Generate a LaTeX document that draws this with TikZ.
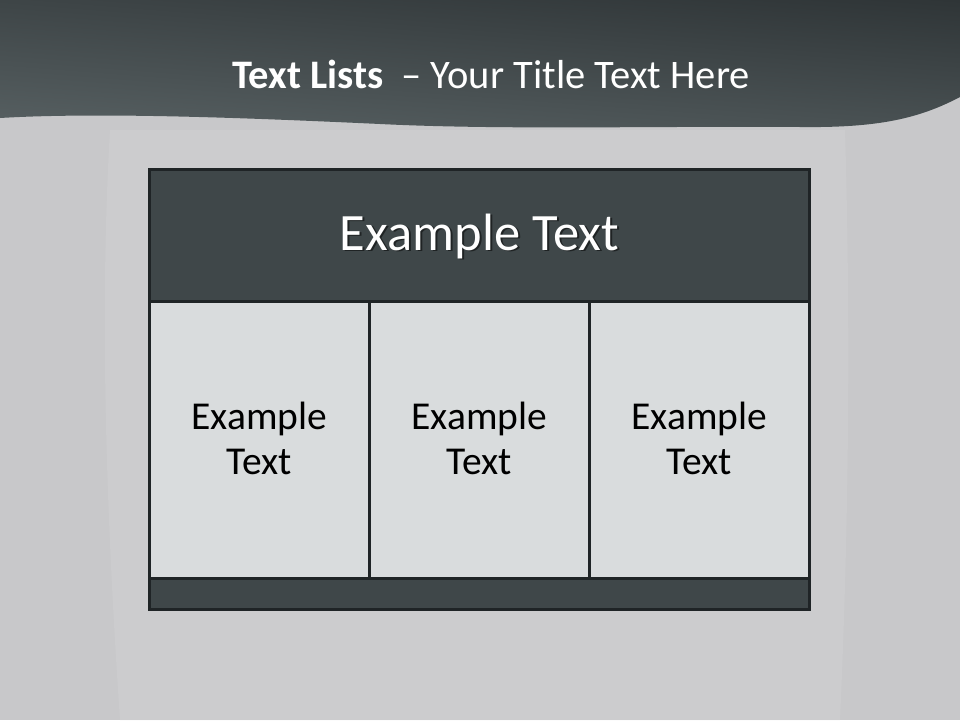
\documentclass[tikz,border=0pt]{standalone}
\usepackage{fontspec}
\setmainfont{Carlito}
\usetikzlibrary{shadings}
\definecolor{bgc}{HTML}{C8C8CA}
\definecolor{bglight}{HTML}{D0D1D2}
\definecolor{darkfill}{HTML}{3F4749}
\definecolor{cellfill}{HTML}{D9DCDD}
\definecolor{edge}{HTML}{1F2426}
\definecolor{bandUL}{HTML}{3E4547}
\definecolor{bandUR}{HTML}{2F3537}
\definecolor{bandLL}{HTML}{576062}
\definecolor{bandLR}{HTML}{495153}
\tikzset{
  cellbox/.style={draw=edge, line width=2.8pt, fill=cellfill},
  darkbox/.style={draw=edge, line width=2.8pt, fill=darkfill},
  celltext/.style={font=\fontsize{39.5}{45}\selectfont, text=black, align=center},
  headtext/.style={font=\fontsize{52.5}{58}\selectfont, text=white},
}
\begin{document}
\begin{tikzpicture}[x=1pt,y=-1pt]
\useasboundingbox (0,0) rectangle (960,720);
% background
\fill[bgc] (0,0) rectangle (960,720);
\fill[bglight, opacity=0.5] (110,130) .. controls (100,300) and (105,500) .. (120,720) -- (840,720) .. controls (850,500) and (850,300) .. (845,130) -- cycle;
% top band with wave
\shade[upper left=bandUL, upper right=bandUR, lower left=bandLL, lower right=bandLR]
  (0,0) -- (960,0) -- (960,97) .. controls (920,118) and (880,128) .. (800,127)
  .. controls (650,126) and (500,130) .. (380,124) .. controls (250,118) and (100,112) .. (0,118) -- cycle;
% title
\node[font=\fontsize{40.5}{46}\selectfont, text=white, anchor=base] (title) at (491,88)
  {\textbf{Text Lists} \ – Your Title Text Here};
% table
\node[darkbox, minimum width=660pt, minimum height=132pt, inner sep=0pt, anchor=north west] (head) at (148,168) {};
\node[cellbox, minimum width=220pt, minimum height=277pt, inner sep=0pt, anchor=north west] (c1) at (148,300) {};
\node[cellbox, minimum width=220pt, minimum height=277pt, inner sep=0pt, anchor=north west] (c2) at (368,300) {};
\node[cellbox, minimum width=220pt, minimum height=277pt, inner sep=0pt, anchor=north west] (c3) at (588,300) {};
\node[darkbox, minimum width=660pt, minimum height=31pt, inner sep=0pt, anchor=north west] (foot) at (148,577) {};
% header text with shadow
\node[headtext, text=black, opacity=0.5] (headshadow) at ([xshift=2pt,yshift=-2pt]head.center) {Example Text};
\node[headtext] (headlabel) at ([yshift=-1pt]head.center) {Example Text};
% cell texts
\node[celltext] (t1) at ([yshift=1pt]c1.center) {Example\\Text};
\node[celltext] (t2) at ([yshift=1pt]c2.center) {Example\\Text};
\node[celltext] (t3) at ([yshift=1pt]c3.center) {Example\\Text};
\end{tikzpicture}
\end{document}
